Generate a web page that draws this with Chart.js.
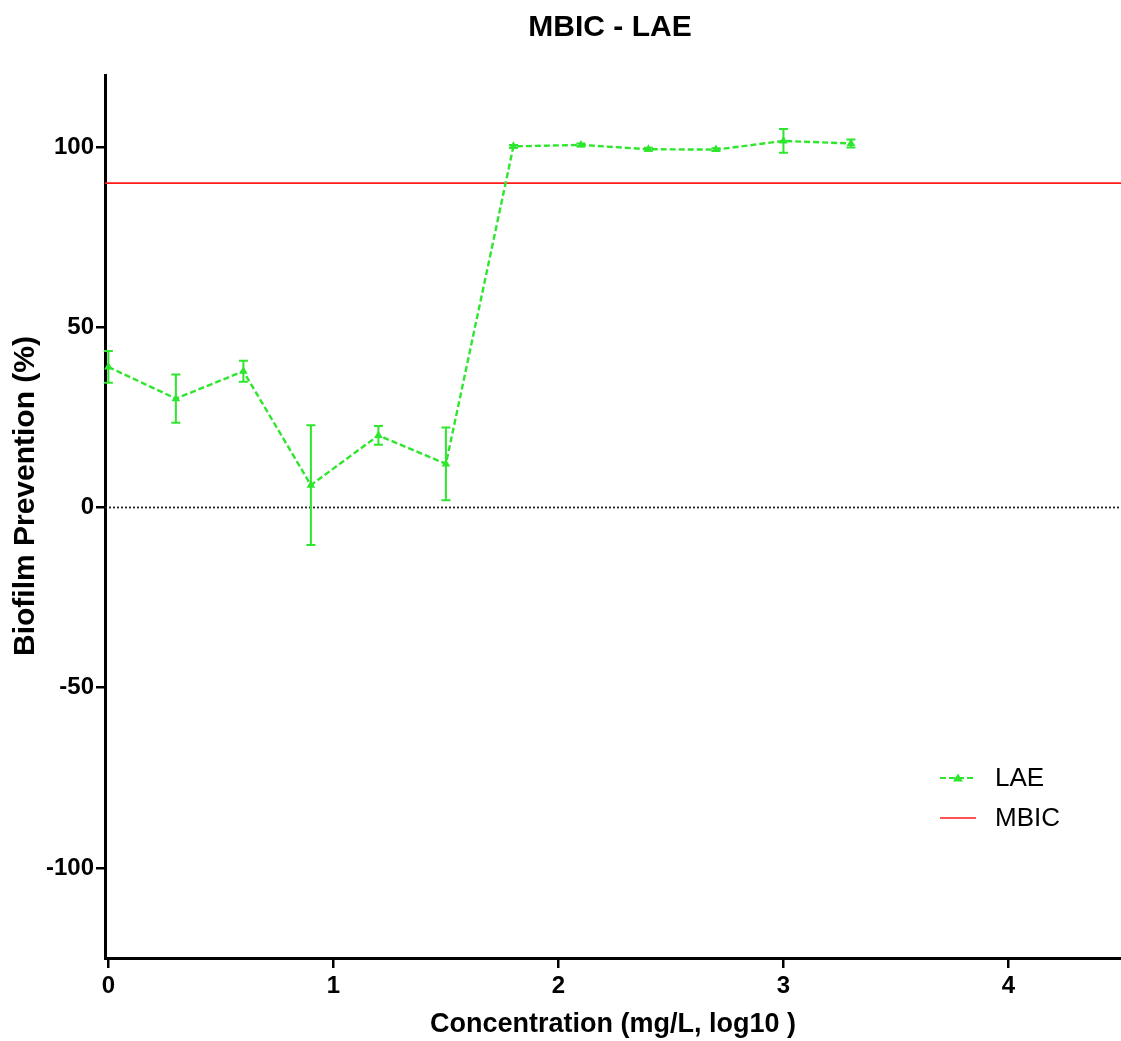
<!DOCTYPE html>
<html>
<head>
<meta charset="utf-8">
<script src="https://cdn.jsdelivr.net/npm/chart.js@4.4.1/dist/chart.umd.min.js"></script>
<style>
  html, body { margin: 0; padding: 0; background: #fff; }
  #wrap { width: 1121px; height: 1041px; position: relative; }
</style>
</head>
<body>
<div id="wrap"><canvas id="chart" width="1121" height="1041"></canvas></div>
<script>
// Concentration (log10 mg/L) and LAE biofilm prevention (%), mean and SD
const concLog = [0, 0.3, 0.6, 0.9, 1.2, 1.5, 1.8, 2.1, 2.4, 2.7, 3.0, 3.3];
const laeMean = [39.0, 30.2, 37.8, 6.2, 20.0, 12.1, 100.2, 100.6, 99.4, 99.3, 101.7, 101.0];
const laeSd   = [4.4, 6.7, 2.9, 16.6, 2.6, 10.1, 0.4, 0.4, 0.4, 0.4, 3.3, 1.1];

// MBIC threshold and baseline
const mbicLevel = 90;
const baseline = 0;

// Axis ranges and tick labels
const xRange = [-0.015, 4.5];
const yRange = [-125, 120];
const xTicks = [0, 1, 2, 3, 4];
const yTicks = [-100, -50, 0, 50, 100];

const GREEN = '#2ee62e';
const RED = '#ff1a1a';
const FONT = "'Liberation Sans', Arial, sans-serif";

const laePoints = concLog.map((x, i) => ({ x: x, y: laeMean[i] }));
const mbicPoints = xRange.map(x => ({ x: x, y: mbicLevel }));
const basePoints = xRange.map(x => ({ x: x, y: baseline }));

// Vertical SD bars with caps for the LAE series
const errorBars = {
  id: 'errorBars',
  afterDatasetsDraw(chart) {
    const { ctx, scales: { x, y } } = chart;
    ctx.save();
    ctx.strokeStyle = GREEN;
    ctx.lineWidth = 2;
    const cap = 4.5;
    concLog.forEach((cx, i) => {
      const px = x.getPixelForValue(cx);
      const top = y.getPixelForValue(laeMean[i] + laeSd[i]);
      const bot = y.getPixelForValue(laeMean[i] - laeSd[i]);
      ctx.beginPath();
      ctx.moveTo(px, top); ctx.lineTo(px, bot);
      ctx.moveTo(px - cap, top); ctx.lineTo(px + cap, top);
      ctx.moveTo(px - cap, bot); ctx.lineTo(px + cap, bot);
      ctx.stroke();
    });
    ctx.restore();
  }
};

// Title, rotated y-axis title and the in-plot legend
const decorations = {
  id: 'decorations',
  afterDraw(chart) {
    const { ctx } = chart;
    ctx.save();
    ctx.fillStyle = '#000';
    ctx.textAlign = 'center';
    ctx.textBaseline = 'middle';
    ctx.font = 'bold 30px ' + FONT;
    ctx.fillText('MBIC - LAE', 610, 28);

    ctx.save();
    ctx.translate(26, 496);
    ctx.rotate(-Math.PI / 2);
    ctx.font = 'bold 30px ' + FONT;
    ctx.fillText('Biofilm Prevention (%)', 0, 0);
    ctx.restore();

    // legend
    const items = [
      { label: chart.data.datasets[0].label, color: GREEN, dash: [6, 3], marker: true, y: 778 },
      { label: chart.data.datasets[1].label, color: RED, dash: [], marker: false, y: 818 }
    ];
    items.forEach(it => {
      ctx.strokeStyle = it.color;
      ctx.lineWidth = it.marker ? 2.2 : 1.6;
      ctx.setLineDash(it.dash);
      ctx.beginPath();
      ctx.moveTo(940, it.y); ctx.lineTo(976, it.y);
      ctx.stroke();
      ctx.setLineDash([]);
      if (it.marker) {
        ctx.fillStyle = it.color;
        ctx.beginPath();
        ctx.moveTo(958, it.y - 4.5); ctx.lineTo(963, it.y + 3.5); ctx.lineTo(953, it.y + 3.5);
        ctx.closePath(); ctx.fill();
      }
      ctx.fillStyle = '#000';
      ctx.textAlign = 'left';
      ctx.font = '26px ' + FONT;
      ctx.fillText(it.label, 995, it.y + 1);
    });
    ctx.restore();
  }
};

new Chart(document.getElementById('chart'), {
  type: 'line',
  data: {
    datasets: [
      {
        label: 'LAE',
        data: laePoints,
        borderColor: GREEN,
        backgroundColor: GREEN,
        borderWidth: 2.4,
        borderDash: [6, 3],
        pointStyle: 'triangle',
        pointRadius: 5,
        pointBorderWidth: 0,
        pointBackgroundColor: GREEN,
        tension: 0,
        clip: false
      },
      {
        label: 'MBIC',
        data: mbicPoints,
        borderColor: RED,
        borderWidth: 1.6,
        pointRadius: 0
      },
      {
        label: 'baseline',
        data: basePoints,
        borderColor: '#222',
        borderWidth: 1.8,
        borderDash: [2, 2],
        pointRadius: 0
      }
    ]
  },
  options: {
    responsive: false,
    animation: false,
    layout: { autoPadding: false, padding: { top: 75, left: 0, right: 0, bottom: 0 } },
    plugins: {
      legend: { display: false },
      title: { display: false },
      tooltip: { enabled: false }
    },
    scales: {
      x: {
        type: 'linear',
        min: xRange[0],
        max: xRange[1],
        afterBuildTicks: s => { s.ticks = xTicks.map(v => ({ value: v })); },
        afterFit: s => { s.height = 83; s.paddingLeft = 0; s.paddingRight = 0; },
        border: { display: true, color: '#000', width: 3 },
        grid: { drawOnChartArea: false, drawTicks: true, tickLength: 10, color: '#000', lineWidth: 2.5 },
        ticks: { color: '#000', padding: 4, font: { family: FONT, size: 24, weight: 'bold' }, maxRotation: 0 },
        title: {
          display: true,
          text: 'Concentration (mg/L, log10 )',
          color: '#000',
          font: { family: FONT, size: 27, weight: 'bold' },
          padding: { top: 0, bottom: 0 }
        }
      },
      y: {
        type: 'linear',
        min: yRange[0],
        max: yRange[1],
        afterBuildTicks: s => { s.ticks = yTicks.map(v => ({ value: v })); },
        afterFit: s => { s.width = 105; s.paddingTop = 0; s.paddingBottom = 0; },
        border: { display: true, color: '#000', width: 3 },
        grid: { drawOnChartArea: false, drawTicks: true, tickLength: 9, color: '#000', lineWidth: 2.5 },
        ticks: { color: '#000', padding: 2, font: { family: FONT, size: 24, weight: 'bold' } }
      }
    }
  },
  plugins: [errorBars, decorations]
});
</script>
</body>
</html>
